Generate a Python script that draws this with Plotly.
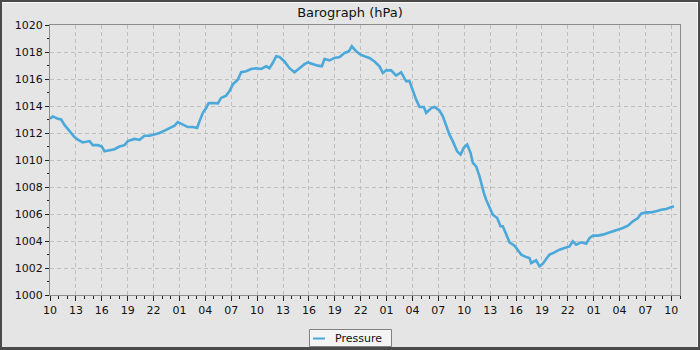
import pandas as pd
import plotly.graph_objects as go

# ---- data ----
start_time = "2023-03-01 10:00"
hours = [0.0, 0.33, 0.91, 1.29, 1.68, 2.07, 2.45, 2.84, 3.23, 3.80,
         4.58, 4.96, 5.54, 6.01, 6.32, 6.89, 7.47, 8.05, 8.63, 9.02,
         9.79, 10.37, 10.95, 11.53, 12.11, 12.69, 13.27, 13.85, 14.43, 14.81,
         15.39, 15.97, 16.55, 17.05, 17.32, 17.71, 18.10, 18.37,
         18.68, 19.45, 19.83, 20.41, 20.80, 21.19, 21.76, 22.15, 22.73, 23.31,
         23.89, 24.47, 25.05, 25.43, 25.82, 26.21, 26.59, 27.17, 27.75, 28.33,
         28.91, 29.49, 29.88, 30.46, 31.04, 31.50, 31.81, 32.39, 32.97, 33.55,
         34.13, 34.63, 34.97, 35.48, 35.98, 36.44, 37.02,
         37.60, 38.18, 38.57, 38.95, 39.53, 40.11, 40.69, 41.27, 41.66, 42.04,
         42.43, 42.82, 43.32, 43.59, 44.17, 44.55, 45.13, 45.52, 45.91, 46.29,
         46.68, 47.18, 47.57, 47.95, 48.34, 48.73, 49.00, 49.38, 49.77, 49.96,
         50.27, 50.54, 50.93, 51.31, 51.82, 52.20, 52.47, 52.86, 53.25, 53.82,
         54.21, 54.60, 55.18, 55.56,
         55.76, 56.33, 56.72, 57.11, 57.49, 57.88, 58.46, 59.04, 59.62, 60.20,
         60.58, 60.97, 61.55, 62.13, 62.51, 62.90, 63.48, 64.06, 64.64, 65.22,
         65.80, 66.38, 66.96, 67.54, 68.12, 68.50, 69.08, 69.66, 70.24, 70.82,
         71.40, 71.98, 72.29]
pressure = [1013.06, 1013.23, 1013.06, 1013.0, 1012.6, 1012.3, 1012.05, 1011.7, 1011.5, 1011.3,
            1011.4, 1011.1, 1011.1, 1011.0, 1010.64, 1010.7, 1010.8, 1011.0, 1011.1, 1011.4,
            1011.56, 1011.5, 1011.8, 1011.8, 1011.88, 1012.0, 1012.17, 1012.37, 1012.54, 1012.8,
            1012.6, 1012.44, 1012.44, 1012.37, 1012.86, 1013.5, 1013.85, 1014.2,
            1014.22, 1014.2, 1014.6, 1014.77, 1015.1, 1015.6, 1015.95, 1016.5, 1016.57, 1016.74,
            1016.8, 1016.74, 1016.94, 1016.8, 1017.2, 1017.68, 1017.63, 1017.3, 1016.8, 1016.5,
            1016.8, 1017.1, 1017.23, 1017.1, 1016.99, 1016.94, 1017.48, 1017.38, 1017.56, 1017.63,
            1017.93, 1018.05, 1018.42, 1018.05, 1017.8, 1017.68, 1017.56,
            1017.3, 1016.94, 1016.44, 1016.64, 1016.64, 1016.25, 1016.5, 1015.83, 1015.83, 1015.1,
            1014.47, 1013.93, 1013.93, 1013.48, 1013.85, 1013.93, 1013.68, 1013.23, 1012.5, 1011.88,
            1011.38, 1010.64, 1010.4, 1010.9, 1011.14, 1010.52, 1009.78, 1009.53, 1008.79, 1008.3,
            1007.56, 1007.06, 1006.44, 1005.95, 1005.7, 1005.09, 1005.09, 1004.47, 1003.9, 1003.65,
            1003.36, 1002.99, 1002.81, 1002.74,
            1002.37, 1002.57, 1002.12, 1002.32, 1002.67, 1002.99, 1003.16, 1003.36, 1003.48, 1003.6,
            1003.98, 1003.73, 1003.9, 1003.8, 1004.22, 1004.4, 1004.4, 1004.47, 1004.6, 1004.72,
            1004.79, 1004.96, 1005.14, 1005.46, 1005.7, 1006.02, 1006.12, 1006.12, 1006.2, 1006.32,
            1006.37, 1006.51, 1006.57]
series_name = "Pressure"
title_text = "Barograph (hPa)"
x_span_hours = 73
y_min, y_max = 1000, 1020

t0 = pd.Timestamp(start_time)
times = [t0 + pd.Timedelta(hours=h) for h in hours]

# ---- layout geometry (pixels) ----
W, H = 700, 350
L, R, T, B = 50, 20, 25, 55
PW, PH = W - L - R, H - T - B


def px(x):
    return (x - L) / PW


def py(y):
    return (H - B - y) / PH


LINE_COLOR = "#4ba8da"
BG = "#e5e5e5"
FONT = "DejaVu Sans"

fig = go.Figure()
fig.add_trace(go.Scatter(
    x=times, y=pressure, mode="lines", name=series_name,
    line=dict(color=LINE_COLOR, width=2.6), showlegend=False,
))

axis_common = dict(
    showline=True, linecolor="#8c8c8c", linewidth=1, mirror=True,
    ticks="outside", tickcolor="#222222", tickwidth=1,
    showgrid=True, gridcolor="#bfbfbf", gridwidth=1, griddash="4px,3px",
    zeroline=False,
    tickfont=dict(family=FONT, size=11, color="#111111"),
)

fig.update_xaxes(
    type="date",
    range=[t0, t0 + pd.Timedelta(hours=x_span_hours)],
    tick0=t0, dtick=3 * 3600 * 1000, tickformat="%H", ticklen=5,
    minor=dict(dtick=3600 * 1000, ticks="outside", ticklen=3,
               tickcolor="#222222", showgrid=False),
    **axis_common,
)
fig.update_yaxes(
    range=[y_min, y_max], dtick=2, ticklen=4,
    minor=dict(dtick=1, ticks="outside", ticklen=2,
               tickcolor="#222222", showgrid=False),
    **axis_common,
)

shapes = []
# outer dark frame
dark = "#4a4a4a"
for (x0, x1, y0, y1) in [(0, W, 0, 2), (0, W, H - 3, H), (0, 2, 0, H), (W - 2, W, 0, H)]:
    shapes.append(dict(type="rect", xref="paper", yref="paper",
                       x0=px(x0), x1=px(x1), y0=py(y1), y1=py(y0),
                       fillcolor=dark, line=dict(width=0), layer="above"))
# thin light bevel
for (x0, x1, y0, y1) in [(2, W - 2, 2, 3), (W - 3, W - 2, 2, H - 3)]:
    shapes.append(dict(type="rect", xref="paper", yref="paper",
                       x0=px(x0), x1=px(x1), y0=py(y1), y1=py(y0),
                       fillcolor="#f8f8f8", line=dict(width=0), layer="above"))
# legend box
lg_x0, lg_x1, lg_y0, lg_y1 = 309, 392, 329, 347
shapes.append(dict(type="rect", xref="paper", yref="paper",
                   x0=px(lg_x0 + 0.5), x1=px(lg_x1 - 0.5),
                   y0=py(lg_y1 - 0.5), y1=py(lg_y0 + 0.5),
                   fillcolor="#f4f4f4", line=dict(color="#808080", width=1),
                   layer="above"))
shapes.append(dict(type="line", xref="paper", yref="paper",
                   x0=px(313), x1=px(325), y0=py(338.5), y1=py(338.5),
                   line=dict(color=LINE_COLOR, width=2), layer="above"))

annotations = [dict(
    text=series_name, xref="paper", yref="paper",
    x=px(333), y=py(338), xanchor="left", yanchor="middle",
    showarrow=False, font=dict(family=FONT, size=11, color="#111111"),
)]

fig.update_layout(
    width=W, height=H,
    margin=dict(l=L, r=R, t=T, b=B, pad=0),
    paper_bgcolor=BG, plot_bgcolor=BG,
    title=dict(text=title_text, x=0.5, xref="container", xanchor="center",
               y=1 - 12 / H, yref="container", yanchor="middle",
               font=dict(family=FONT, size=13, color="#111111")),
    shapes=shapes, annotations=annotations,
    showlegend=False,
)

fig.write_html("out.html")
